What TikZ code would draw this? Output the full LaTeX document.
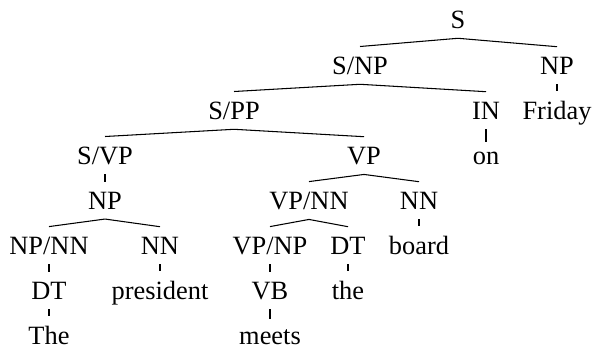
\documentclass[tikz,border=0pt]{standalone}
\usepackage{fontspec}
\setmainfont{Liberation Serif}
\begin{document}
\begin{tikzpicture}[
    x=0.379pt, y=-0.379pt,
    cat/.style={inner sep=3.6pt, anchor=base, font=\fontsize{10}{12}\selectfont},
    branch/.style={line width=0.4pt}
]
    \useasboundingbox (0,0) rectangle (594,348);

    % Knoten
    \node[cat] (s) at (458,28) {S};
    \node[cat] (snp) at (360,74) {S/NP};
    \node[cat] (np1) at (557,74) {NP};
    \node[cat] (spp) at (234,119) {S/PP};
    \node[cat] (in) at (486,119) {IN};
    \node[cat] (friday) at (557,119) {Friday};
    \node[cat] (svp) at (105,164) {S/VP};
    \node[cat] (vp) at (364,164) {VP};
    \node[cat] (on) at (486,164) {on};
    \node[cat] (np2) at (105,209) {NP};
    \node[cat] (vpnn) at (309,209) {VP/NN};
    \node[cat] (nn2) at (419,209) {NN};
    \node[cat] (npnn) at (49,254) {NP/NN};
    \node[cat] (nn1) at (160,254) {NN};
    \node[cat] (vpnp) at (270,254) {VP/NP};
    \node[cat] (dt2) at (348,254) {DT};
    \node[cat] (board) at (419,254) {board};
    \node[cat] (dt1) at (49,299) {DT};
    \node[cat] (president) at (160,299) {president};
    \node[cat] (vb) at (270,299) {VB};
    \node[cat] (the2) at (348,299) {the};
    \node[cat] (the1) at (49,344) {The};
    \node[cat] (meets) at (270,344) {meets};

    % Kanten
    \draw[branch] (s.south) -- (snp.north);
    \draw[branch] (s.south) -- (np1.north);
    \draw[branch] (snp.south) -- (spp.north);
    \draw[branch] (snp.south) -- (in.north);
    \draw[branch] (np1.south) -- (friday.north);
    \draw[branch] (spp.south) -- (svp.north);
    \draw[branch] (spp.south) -- (vp.north);
    \draw[branch] (in.south) -- (on.north);
    \draw[branch] (svp.south) -- (np2.north);
    \draw[branch] (vp.south) -- (vpnn.north);
    \draw[branch] (vp.south) -- (nn2.north);
    \draw[branch] (np2.south) -- (npnn.north);
    \draw[branch] (np2.south) -- (nn1.north);
    \draw[branch] (vpnn.south) -- (vpnp.north);
    \draw[branch] (vpnn.south) -- (dt2.north);
    \draw[branch] (nn2.south) -- (board.north);
    \draw[branch] (npnn.south) -- (dt1.north);
    \draw[branch] (nn1.south) -- (president.north);
    \draw[branch] (vpnp.south) -- (vb.north);
    \draw[branch] (dt2.south) -- (the2.north);
    \draw[branch] (dt1.south) -- (the1.north);
    \draw[branch] (vb.south) -- (meets.north);
\end{tikzpicture}
\end{document}
